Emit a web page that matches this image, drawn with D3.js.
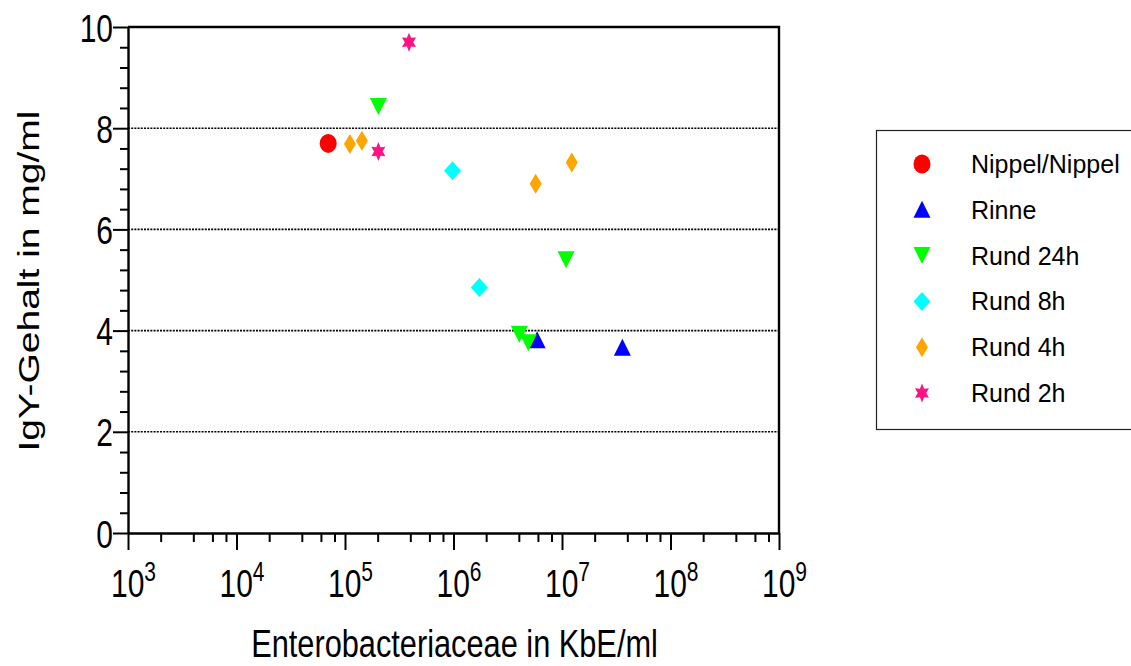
<!DOCTYPE html>
<html>
<head>
<meta charset="utf-8">
<script src="https://cdn.jsdelivr.net/npm/d3@7"></script>
<style>
  html, body { margin: 0; padding: 0; background: #fff; }
  svg { display: block; font-family: "Liberation Sans", Arial, sans-serif; }
</style>
</head>
<body>
<svg id="chart" width="1131" height="666"></svg>
<script>
// Series names, in legend order
const seriesNames = ["Nippel/Nippel", "Rinne", "Rund 24h", "Rund 8h", "Rund 4h", "Rund 2h"];

// Enterobacteriaceae (KbE/ml) and IgY content (mg/ml) for each series
const nippelX = [7.0e4];
const nippelY = [7.70];
const rinneX = [5.9e6, 3.6e7];
const rinneY = [3.81, 3.66];
const rund24X = [2.03e5, 1.09e7, 4.04e6, 4.89e6];
const rund24Y = [8.43, 5.40, 3.93, 3.76];
const rund8X = [9.8e5, 1.73e6];
const rund8Y = [7.16, 4.85];
const rund4X = [1.11e5, 1.43e5, 5.72e6, 1.23e7];
const rund4Y = [7.69, 7.75, 6.90, 7.32];
const rund2X = [3.89e5, 2.03e5];
const rund2Y = [9.70, 7.54];

// Axis ticks
const xMajorExponents = [3, 4, 5, 6, 7, 8, 9];
const yMajorTicks = [0, 2, 4, 6, 8, 10];
const yGridValues = [2, 4, 6, 8];

const seriesX = [nippelX, rinneX, rund24X, rund8X, rund4X, rund2X];
const seriesY = [nippelY, rinneY, rund24Y, rund8Y, rund4Y, rund2Y];
const colors = ["#ff0000", "#0000ff", "#00ff00", "#00ffff", "#ffa500", "#ff1283"];
const shapes = ["circle", "triUp", "triDown", "diamond", "thinDiamond", "star"];

// Axis text is drawn tall and narrow
const TEXT_STRETCH = 1.3;

// Marker outlines centred on (0,0)
function shapePath(kind) {
  switch (kind) {
    case "triUp": return "M0,-9L8.5,8L-8.5,8Z";
    case "triDown": return "M0,8.5L8.5,-8.5L-8.5,-8.5Z";
    case "diamond": return "M0,-9.5L8.5,0L0,9.5L-8.5,0Z";
    case "thinDiamond": return "M0,-10L6,0L0,10L-6,0Z";
    case "star": {
      // six-pointed star
      const pts = [];
      for (let i = 0; i < 12; i++) {
        const a = -Math.PI / 2 + i * Math.PI / 6;
        const r = i % 2 === 0 ? 9.5 : 5;
        pts.push([r * Math.cos(a) * 0.85, r * Math.sin(a)]);
      }
      return "M" + pts.map(p => p.join(",")).join("L") + "Z";
    }
  }
  return "";
}

function drawMarker(g, kind, color) {
  if (kind === "circle") {
    g.append("ellipse").attr("rx", 8.5).attr("ry", 9.5).attr("fill", color);
  } else {
    g.append("path").attr("d", shapePath(kind)).attr("fill", color);
  }
}

const svg = d3.select("#chart");
const plotLeft = 128, plotRight = 779, plotTop = 27, plotBottom = 533;

const x = d3.scaleLog().domain([1e3, 1e9]).range([plotLeft, plotRight]);
const y = d3.scaleLinear().domain([0, 10]).range([plotBottom, plotTop]);

// Dotted horizontal grid lines
svg.append("g").selectAll("line")
  .data(yGridValues).join("line")
  .attr("x1", plotLeft).attr("x2", plotRight)
  .attr("y1", d => y(d)).attr("y2", d => y(d))
  .attr("stroke", "#000").attr("stroke-width", 1.6)
  .attr("stroke-dasharray", "2,1.2");

// Frame: top and right edges
svg.append("path")
  .attr("d", `M${plotLeft},${plotTop}H${plotRight}V${plotBottom}`)
  .attr("fill", "none").attr("stroke", "#000").attr("stroke-width", 2.4);

// Y axis: minor ticks every 0.4, major ticks every 2
const yMinor = d3.range(0, 10.001, 0.4).filter(v => Math.abs(v / 2 - Math.round(v / 2)) > 1e-6);
svg.append("g").attr("transform", `translate(${plotLeft},0)`)
  .call(d3.axisLeft(y).tickValues(yMinor).tickSize(8).tickFormat(""))
  .call(g => g.select(".domain").remove())
  .call(g => g.selectAll("line").attr("stroke-width", 2));

const yAxis = svg.append("g").attr("transform", `translate(${plotLeft},0)`)
  .call(d3.axisLeft(y).tickValues(yMajorTicks).tickSize(15).tickSizeOuter(0).tickFormat(""))
  .call(g => g.select(".domain").attr("stroke-width", 2.4))
  .call(g => g.selectAll("line").attr("stroke-width", 2));
yAxis.selectAll(".tick").each(function (d) {
  d3.select(this).append("text")
    .attr("transform", `translate(-15,14) scale(1,${TEXT_STRETCH})`)
    .attr("text-anchor", "end").attr("font-size", 30).attr("fill", "#000")
    .attr("font-family", "Liberation Sans, Arial, sans-serif")
    .text(d3.format("d")(d));
});

// X axis: log decades with minor ticks at 2, 4, 6, 8
const xMinor = [];
xMajorExponents.slice(0, -1).forEach(e => [2, 4, 6, 8].forEach(m => xMinor.push(m * Math.pow(10, e))));
svg.append("g").attr("transform", `translate(0,${plotBottom})`)
  .call(d3.axisBottom(x).tickValues(xMinor).tickSize(9).tickFormat(""))
  .call(g => g.select(".domain").remove())
  .call(g => g.selectAll("line").attr("stroke-width", 2));

const xAxis = svg.append("g").attr("transform", `translate(0,${plotBottom})`)
  .call(d3.axisBottom(x).tickValues(xMajorExponents.map(e => Math.pow(10, e))).tickSize(17).tickSizeOuter(0).tickFormat(""))
  .call(g => g.select(".domain").attr("stroke-width", 2.4))
  .call(g => g.selectAll("line").attr("stroke-width", 2));
xAxis.selectAll(".tick").each(function (d) {
  const e = Math.round(Math.log10(d));
  const t = d3.select(this).append("text")
    .attr("transform", `translate(5,64) scale(1,${TEXT_STRETCH})`)
    .attr("fill", "#000").attr("font-size", 30)
    .attr("text-anchor", "middle")
    .attr("font-family", "Liberation Sans, Arial, sans-serif");
  t.append("tspan").text("10");
  t.append("tspan").attr("font-size", 21).attr("dy", -12).text(e);
});

// Axis titles
svg.append("text")
  .attr("transform", `translate(${(plotLeft + plotRight) / 2 + 1},657) scale(1.025,${TEXT_STRETCH})`)
  .attr("text-anchor", "middle").attr("font-size", 30).attr("fill", "#000")
  .text("Enterobacteriaceae in KbE/ml");
svg.append("text")
  .attr("transform", `translate(39,281) rotate(-90) scale(${TEXT_STRETCH},1)`)
  .attr("text-anchor", "middle").attr("font-size", 30).attr("fill", "#000")
  .text("IgY-Gehalt in mg/ml");

// Data points
const plot = svg.append("g");
seriesNames.forEach((name, i) => {
  const pts = seriesX[i].map((xv, j) => [xv, seriesY[i][j]]);
  plot.append("g").selectAll("g")
    .data(pts).join("g")
    .attr("transform", d => `translate(${x(d[0])},${y(d[1])})`)
    .each(function () { drawMarker(d3.select(this), shapes[i], colors[i]); });
});

// Legend
const legend = svg.append("g");
legend.append("rect")
  .attr("x", 876.5).attr("y", 130.5).attr("width", 260).attr("height", 299)
  .attr("fill", "#fff").attr("stroke", "#222").attr("stroke-width", 1.2);
const rowY = d3.scaleLinear().domain([0, 5]).range([164, 393]);
seriesNames.forEach((name, i) => {
  const row = legend.append("g").attr("transform", `translate(922,${rowY(i)})`);
  drawMarker(row, shapes[i], colors[i]);
  row.append("text").attr("x", 49).attr("y", 9).attr("font-size", 25).attr("fill", "#000").text(name);
});
</script>
</body>
</html>
